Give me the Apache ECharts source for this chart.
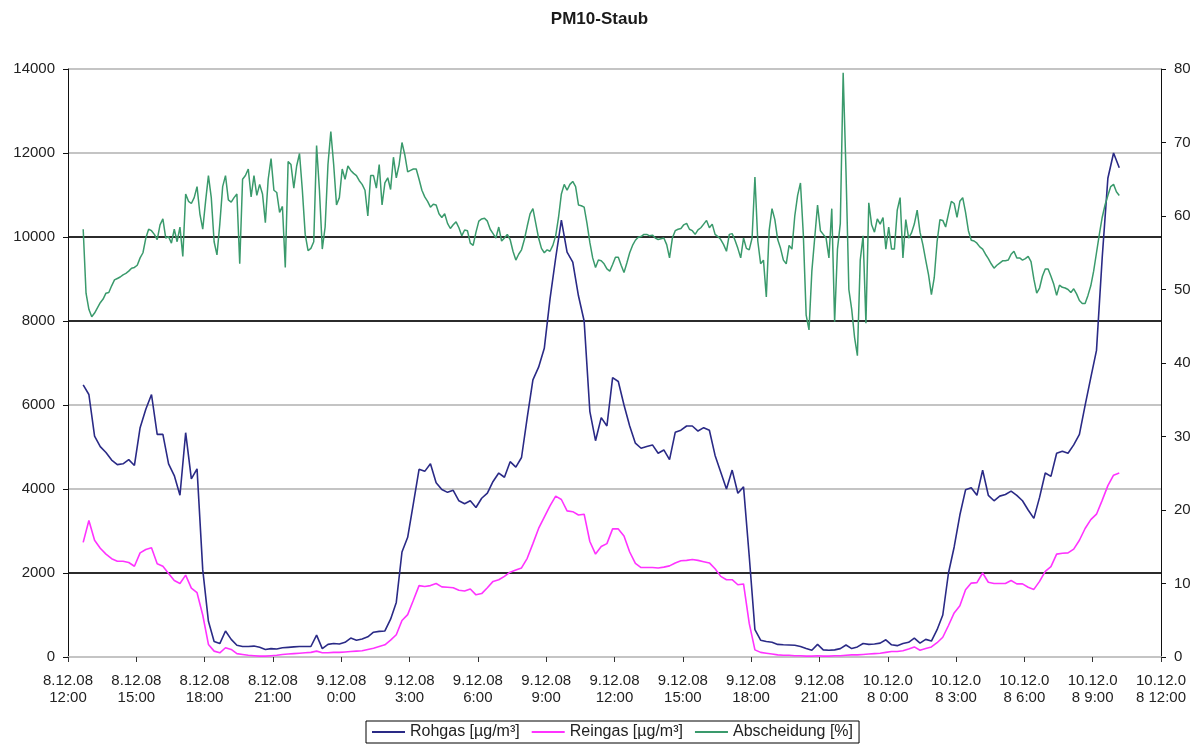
<!DOCTYPE html>
<html>
<head>
<meta charset="utf-8">
<title>PM10-Staub</title>
<script src="https://cdn.jsdelivr.net/npm/echarts@6/dist/echarts.min.js"></script>
<style>
  html, body { margin: 0; padding: 0; background: #fff; }
  #chart { width: 1199px; height: 745px; }
</style>
</head>
<body>
<div id="chart"></div>
<script>
// Time axis is in hours after 8.12.08 12:00; ticks every 3 hours.
const tickLabels = [
  "8.12.08\n12:00", "8.12.08\n15:00", "8.12.08\n18:00", "8.12.08\n21:00",
  "9.12.08\n0:00", "9.12.08\n3:00", "9.12.08\n6:00", "9.12.08\n9:00",
  "9.12.08\n12:00", "9.12.08\n15:00", "9.12.08\n18:00", "9.12.08\n21:00",
  "10.12.0\n8 0:00", "10.12.0\n8 3:00", "10.12.0\n8 6:00", "10.12.0\n8 9:00",
  "10.12.0\n8 12:00"
];

// Gas concentrations, one reading every 15 minutes starting 12:40 on 8.12.08
const gasStart = 0.667;   // hours
const gasStep = 0.25;     // hours

const rohgas = [
  6480, 6250, 5260, 5010, 4870, 4690, 4580, 4600, 4700, 4560,
  5460, 5900, 6250, 5300, 5300, 4600, 4320, 3850, 5340, 4240,
  4480, 2080, 850, 370, 320, 620, 420, 280, 250, 250,
  260, 230, 180, 200, 190, 220, 230, 240, 250, 250,
  250, 520, 200, 300, 320, 310, 350, 450, 400, 430,
  480, 590, 610, 620, 900, 1300, 2500, 2850, 3650, 4470,
  4420, 4600, 4150, 3990, 3920, 3970, 3720, 3650, 3720, 3560,
  3780, 3900, 4180, 4380, 4280, 4650, 4520, 4750, 5700, 6600,
  6900, 7350, 8520, 9500, 10400, 9640, 9400, 8600, 8000, 5850,
  5150, 5700, 5500, 6650, 6560, 6000, 5500, 5090, 4970, 5010,
  5050, 4850, 4930, 4700, 5350, 5400, 5500, 5500, 5380, 5460,
  5400, 4800, 4400, 4000, 4450, 3900, 4050, 2400, 650, 400,
  370, 350, 300, 290, 285, 280, 250, 200, 160, 300,
  170, 160, 170, 200, 285, 200, 240, 320, 300, 310,
  330, 410, 290, 270, 320, 350, 450, 330, 420, 380,
  650, 1000, 2000, 2620, 3380, 3980, 4030, 3850, 4450, 3850,
  3720, 3830, 3870, 3950, 3850, 3720, 3500, 3300, 3800, 4380,
  4300, 4850, 4900, 4850, 5050, 5300, 5990, 6650, 7300, 9500,
  11400, 12000, 11650
];

const reingas = [
  2730, 3250, 2780, 2590, 2450, 2340, 2280, 2280, 2250, 2160,
  2480, 2560, 2600, 2220, 2160, 1990, 1820, 1750, 1950, 1640,
  1530, 1000, 300, 140, 100, 220, 180, 80, 60, 40,
  30, 20, 20, 30, 40, 60, 70, 80, 90, 100,
  110, 140, 100, 100, 110, 110, 120, 130, 140, 150,
  180, 210, 250, 290, 400, 530, 870, 1010, 1350, 1700,
  1680, 1700, 1750, 1670, 1660, 1650, 1590, 1570, 1620, 1480,
  1510, 1650, 1800, 1840, 1920, 2020, 2070, 2120, 2350, 2700,
  3060, 3330, 3600, 3830, 3750, 3480, 3460, 3380, 3400, 2750,
  2450, 2630, 2700, 3050, 3050, 2880, 2500, 2230, 2130, 2130,
  2130, 2120, 2140, 2170, 2240, 2290, 2300, 2320, 2300, 2270,
  2240, 2100, 1920, 1840, 1840, 1720, 1740, 800, 170, 110,
  90, 70, 50, 40, 40, 30, 30, 20, 20, 30,
  20, 20, 30, 30, 40, 50, 50, 60, 70, 80,
  90, 110, 130, 130, 150, 190, 240, 160, 200, 240,
  340, 470, 750, 1050, 1220, 1600, 1760, 1770, 2000, 1780,
  1750, 1750, 1750, 1820, 1740, 1740, 1660, 1610, 1800, 2040,
  2150, 2450, 2470, 2480, 2570, 2780, 3060, 3270, 3400, 3730,
  4080, 4330, 4380
];

// Separation efficiency in %, one reading every 7.5 minutes from 12:40
const abscheidungStart = 0.667;
const abscheidungStep = 0.125;

const abscheidung = [
  58.2, 49.5, 47.3, 46.3, 46.8, 47.5, 48.2, 48.7, 49.5, 49.6,
  50.5, 51.3, 51.5, 51.7, 52.0, 52.2, 52.5, 52.9, 53.0, 53.3,
  54.3, 55.0, 57.0, 58.2, 58.0, 57.5, 56.8, 58.8, 59.6, 57.0,
  57.2, 56.3, 58.2, 56.5, 58.5, 54.5, 63.0, 62.0, 61.7, 62.5,
  64.0, 60.3, 58.2, 62.0, 65.5, 62.5, 56.5, 54.7, 58.9, 64.0,
  65.5, 62.2, 61.9, 62.5, 63.0, 53.5, 65.0, 65.5, 66.4, 62.6,
  65.5, 62.8, 64.3, 63.0, 59.1, 65.0, 67.8, 63.5, 63.2, 60.5,
  61.3, 53.0, 67.4, 67.0, 63.8, 66.8, 68.5, 63.5, 57.5, 55.3,
  55.6, 56.5, 69.6, 63.5, 55.5, 58.5, 67.0, 71.5, 67.0, 61.5,
  62.5, 66.4, 65.0, 66.8, 66.2, 65.8, 65.5, 64.8, 64.3, 63.5,
  60.0, 65.5, 65.5, 63.8, 67.0, 61.5, 64.5, 65.2, 63.6, 68.0,
  65.2, 67.0, 70.0, 68.3, 66.0, 66.2, 66.4, 66.4, 65.0, 63.5,
  62.6, 62.0, 61.2, 61.6, 61.5, 60.3, 59.8, 60.3, 59.0, 58.3,
  58.8, 59.2, 58.4, 57.3, 58.1, 58.0, 56.3, 56.0, 57.8, 59.3,
  59.6, 59.7, 59.3, 58.2, 57.6, 57.0, 58.5, 56.6, 57.0, 57.5,
  56.8, 55.2, 54.0, 54.8, 55.4, 56.8, 58.6, 60.3, 61.0, 59.0,
  57.0, 55.6, 55.0, 55.4, 55.2, 56.0, 57.3, 59.8, 63.0, 64.3,
  63.5, 64.3, 64.7, 64.0, 61.5, 61.4, 61.2, 59.0, 56.4, 54.3,
  53.0, 54.0, 53.9, 53.5, 52.8, 52.5, 53.4, 54.4, 54.4, 53.3,
  52.3, 53.6, 55.0, 56.0, 56.7, 57.1, 57.2, 57.5, 57.5, 57.3,
  57.4, 57.0, 56.8, 56.9, 57.0, 56.1, 54.3, 57.0, 58.0, 58.2,
  58.3, 58.8, 59.0, 58.2, 58.0, 57.5, 58.1, 58.4, 58.9, 59.4,
  58.4, 58.9, 57.5, 57.2, 56.8, 56.1, 55.2, 57.5, 57.6, 56.7,
  55.6, 54.3, 57.0, 55.6, 55.4, 57.0, 65.3, 56.6, 53.5, 54.0,
  49.0, 58.0, 61.0, 59.5, 56.8, 55.6, 54.0, 53.5, 56.0, 55.5,
  60.0, 62.8, 64.5, 57.5, 46.5, 44.5, 52.5, 57.0, 61.5, 58.0,
  57.5, 57.0, 54.3, 61.0, 45.6, 55.5, 59.0, 79.5, 66.0, 50.0,
  47.3, 43.5, 41.0, 54.0, 57.3, 45.4, 61.8, 58.8, 57.8, 59.6,
  58.9, 59.8, 55.5, 58.5, 55.5, 55.5, 60.8, 62.5, 54.3, 59.5,
  57.0, 57.7, 58.9, 60.8, 57.8, 56.1, 54.0, 52.0, 49.3, 51.6,
  56.5, 59.5, 59.4, 58.5, 60.3, 62.0, 61.7, 59.8, 62.0, 62.5,
  60.5, 58.0, 56.7, 56.6, 56.3, 55.8, 55.5, 54.8, 54.2, 53.5,
  52.9, 53.3, 53.6, 53.9, 53.9, 54.0, 54.8, 55.2, 54.3, 54.3,
  54.0, 54.2, 54.5, 53.8, 51.4, 49.5, 50.2, 51.8, 52.8, 52.8,
  51.8, 50.7, 49.2, 50.6, 50.3, 50.2, 50.0, 49.6, 50.1, 49.4,
  48.5, 48.1, 48.1, 49.2, 50.5, 52.5, 55.0, 57.5, 59.8, 61.5,
  62.8, 64.0, 64.3, 63.3, 62.8
];

// Pair each reading with its time in hours
function withTimes(values, start, step) {
  return values.map((v, i) => [start + i * step, v]);
}

// Horizontal grid: black lines at 2000, 8000 and 10000, grey elsewhere
const GREY = '#c4c4c4';
const BLACK = '#2b2b2b';
const gridColors = [GREY, BLACK, GREY, GREY, BLACK, BLACK, GREY, GREY];

const FONT = '"Liberation Sans", Arial, sans-serif';

const chart = echarts.init(document.getElementById('chart'), null, { renderer: 'canvas' });

chart.setOption({
  animation: false,
  backgroundColor: '#ffffff',
  title: {
    text: 'PM10-Staub',
    left: 'center',
    top: 6,
    textStyle: { fontFamily: FONT, fontSize: 17, fontWeight: 'bold', color: '#1a1a1a' }
  },
  grid: { left: 68, right: 38, top: 69, bottom: 88, containLabel: false },
  legend: {
    left: 366,
    top: 721,
    orient: 'horizontal',
    icon: 'rect',
    itemWidth: 33,
    itemHeight: 2,
    itemGap: 12,
    padding: [3, 6, 3, 6],
    borderColor: '#000',
    borderWidth: 1,
    textStyle: { fontFamily: FONT, fontSize: 16, color: '#222' },
    data: ['Rohgas [µg/m³]', 'Reingas [µg/m³]', 'Abscheidung [%]']
  },
  xAxis: {
    type: 'value',
    min: 0,
    max: 48,
    interval: 3,
    axisLine: { show: true, lineStyle: { color: GREY, width: 2 } },
    axisTick: { show: true, inside: false, length: 5, lineStyle: { color: '#333', width: 1 } },
    axisLabel: {
      margin: 15,
      fontFamily: FONT,
      fontSize: 15,
      lineHeight: 17,
      color: '#222',
      align: 'center',
      formatter: v => tickLabels[Math.round(v / 3)] || ''
    },
    splitLine: { show: false }
  },
  yAxis: [
    {
      type: 'value',
      min: 0,
      max: 14000,
      interval: 2000,
      position: 'left',
      axisLine: { show: true, lineStyle: { color: '#111', width: 1 } },
      axisTick: { show: true, inside: false, length: 5, lineStyle: { color: '#111' } },
      axisLabel: { margin: 13, fontFamily: FONT, fontSize: 15, color: '#222', formatter: v => String(v) },
      splitLine: { show: true, lineStyle: { color: gridColors, width: 2 } }
    },
    {
      type: 'value',
      min: 0,
      max: 80,
      interval: 10,
      position: 'right',
      axisLine: { show: true, lineStyle: { color: '#111', width: 1 } },
      axisTick: { show: true, inside: false, length: 5, lineStyle: { color: '#111' } },
      axisLabel: { margin: 13, fontFamily: FONT, fontSize: 15, color: '#222', formatter: v => String(v) },
      splitLine: { show: false }
    }
  ],
  series: [
    {
      name: 'Rohgas [µg/m³]',
      type: 'line',
      yAxisIndex: 0,
      showSymbol: false,
      symbol: 'none',
      color: '#2a2a86',
      lineStyle: { color: '#2a2a86', width: 1.6 },
      data: withTimes(rohgas, gasStart, gasStep)
    },
    {
      name: 'Reingas [µg/m³]',
      type: 'line',
      yAxisIndex: 0,
      showSymbol: false,
      symbol: 'none',
      color: '#ff33ff',
      lineStyle: { color: '#ff33ff', width: 1.6 },
      data: withTimes(reingas, gasStart, gasStep)
    },
    {
      name: 'Abscheidung [%]',
      type: 'line',
      yAxisIndex: 1,
      showSymbol: false,
      symbol: 'none',
      color: '#3a9a6c',
      lineStyle: { color: '#3a9a6c', width: 1.5 },
      data: withTimes(abscheidung, abscheidungStart, abscheidungStep)
    }
  ]
});
</script>
</body>
</html>
